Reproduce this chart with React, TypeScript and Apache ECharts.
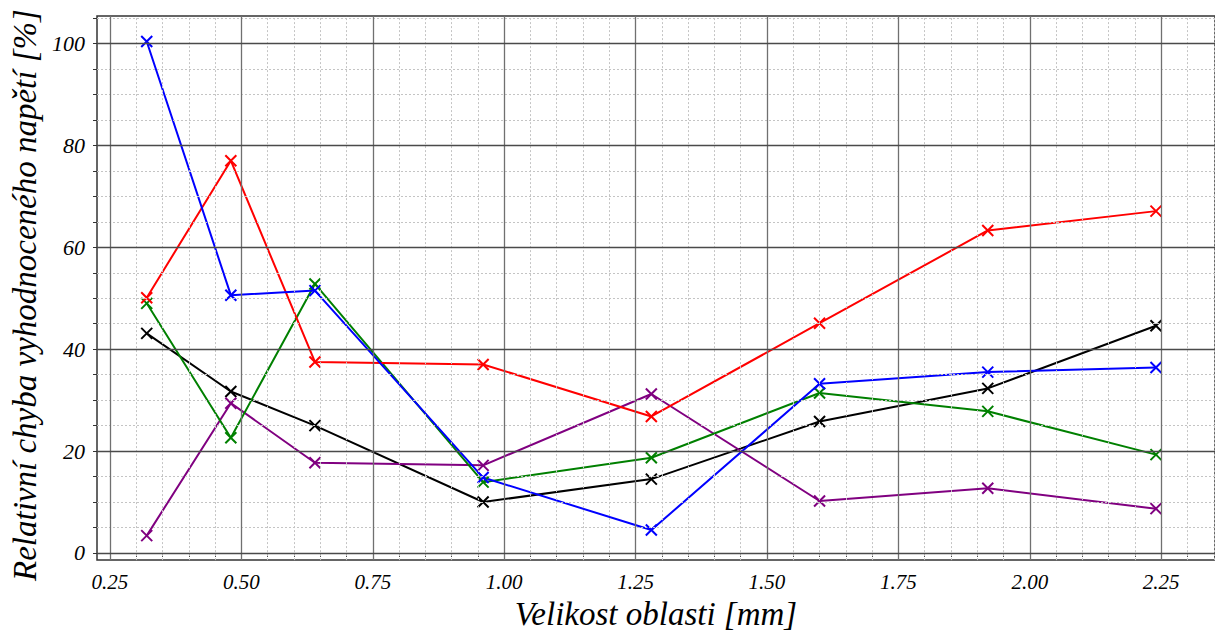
import React, { useEffect, useRef } from "react";
import * as echarts from "echarts";

const xValues = [0.32, 0.48, 0.64, 0.96, 1.28, 1.6, 1.92, 2.24];
const blueSeries = [100.4, 50.6, 51.5, 14.8, 4.5, 33.2, 35.5, 36.4];
const redSeries = [50.1, 77.0, 37.5, 37.0, 26.8, 45.1, 63.3, 67.1];
const greenSeries = [49.0, 22.6, 52.8, 13.9, 18.7, 31.4, 27.8, 19.3];
const blackSeries = [43.1, 31.7, 25.0, 10.0, 14.5, 25.8, 32.3, 44.6];
const purpleSeries = [3.4, 29.4, 17.7, 17.2, 31.2, 10.2, 12.7, 8.7];

const xMajorTicks = [0.25, 0.5, 0.75, 1.0, 1.25, 1.5, 1.75, 2.0, 2.25];
const xMinorTicks = [
  0.25, 0.3, 0.35, 0.4, 0.45, 0.5, 0.55, 0.6, 0.65, 0.7, 0.75, 0.8, 0.85, 0.9, 0.95,
  1.0, 1.05, 1.1, 1.15, 1.2, 1.25, 1.3, 1.35, 1.4, 1.45, 1.5, 1.55, 1.6, 1.65, 1.7,
  1.75, 1.8, 1.85, 1.9, 1.95, 2.0, 2.05, 2.1, 2.15, 2.2, 2.25, 2.3, 2.35,
];
const yMajorTicks = [0, 20, 40, 60, 80, 100];
const yMinorTicks = [0, 5, 10, 15, 20, 25, 30, 35, 40, 45, 50, 55, 60, 65, 70, 75, 80, 85, 90, 95, 100, 105];

const xTitle = "Velikost oblasti [mm]";
const yTitle = "Relativní chyba vyhodnoceného napětí [%]";

const FONT = "Liberation Serif";
const X_SYMBOL = "path://M0,0L10,10M10,0L0,10";

function isMajor(v: number, majors: number[]) {
  return majors.some((m) => Math.abs(m - v) < 1e-6);
}

export default function App() {
  const ref = useRef<HTMLDivElement>(null);
  useEffect(() => {
    if (!ref.current) return;
    const chart = echarts.init(ref.current, null, { renderer: "svg" });

    const mk = (name: string, color: string, values: number[]) => ({
      name,
      type: "line",
      data: xValues.map((x, i) => [x, values[i]]),
      symbol: X_SYMBOL,
      symbolSize: 11,
      lineStyle: { color, width: 2 },
      itemStyle: { color, borderColor: color, borderWidth: 2 },
      z: 3,
    });

    const minorX = xMinorTicks.filter((v) => !isMajor(v, xMajorTicks));
    const minorY = yMinorTicks.filter((v) => !isMajor(v, yMajorTicks));

    const gridSeries = {
      name: "gridlines",
      type: "line",
      data: [],
      silent: true,
      z: 1,
      markLine: {
        silent: true,
        symbol: "none",
        label: { show: false },
        animation: false,
        data: [
          ...minorX.map((v) => ({ xAxis: v, lineStyle: { color: "#c4c4c4", width: 1, type: [2, 2] } })),
          ...minorY.map((v) => ({ yAxis: v, lineStyle: { color: "#c4c4c4", width: 1, type: [2, 2] } })),
          ...xMajorTicks.map((v) => ({ xAxis: v, lineStyle: { color: "#707070", width: 1.3, type: "solid" } })),
          ...yMajorTicks.map((v) => ({ yAxis: v, lineStyle: { color: "#4a4a4a", width: 1.3, type: "solid" } })),
        ],
      },
    };

    chart.setOption({
      animation: false,
      backgroundColor: "#ffffff",
      grid: {
        left: 97,
        top: 16,
        right: -5,
        bottom: 70,
        show: true,
        borderColor: "#333",
        borderWidth: 1.5,
        containLabel: false,
      },
      xAxis: {
        type: "value",
        min: 0.2254,
        max: 2.3523,
        axisLine: { show: false },
        splitLine: { show: false },
        axisTick: {
          show: true,
          inside: false,
          length: 4,
          customValues: xMinorTicks,
          lineStyle: { color: "#333", width: 1 },
        },
        axisLabel: {
          customValues: xMajorTicks,
          formatter: (v: number) => v.toFixed(2),
          fontFamily: FONT,
          fontStyle: "italic",
          fontSize: 21,
          color: "#000",
          margin: 11,
        },
        name: xTitle,
        nameLocation: "middle",
        nameGap: 35,
        nameTextStyle: { fontFamily: FONT, fontStyle: "italic", fontSize: 33, color: "#000", verticalAlign: "top" },
      },
      yAxis: {
        type: "value",
        min: -1.4,
        max: 105.4,
        axisLine: { show: false },
        splitLine: { show: false },
        axisTick: {
          show: true,
          inside: false,
          length: 4,
          customValues: yMinorTicks,
          lineStyle: { color: "#333", width: 1 },
        },
        axisLabel: {
          customValues: yMajorTicks,
          formatter: (v: number) => String(v),
          fontFamily: FONT,
          fontStyle: "italic",
          fontSize: 22,
          color: "#000",
          margin: 12,
        },
        name: yTitle,
        nameLocation: "middle",
        nameGap: 46,
        nameRotate: 90,
        nameTextStyle: {
          fontFamily: FONT,
          fontStyle: "italic",
          fontSize: 33,
          color: "#000",
          padding: [0, 14, 0, 0],
        },
      },
      series: [
        gridSeries,
        mk("black", "#000000", blackSeries),
        mk("purple", "#800080", purpleSeries),
        mk("green", "#008000", greenSeries),
        mk("red", "#ff0000", redSeries),
        mk("blue", "#0000ff", blueSeries),
      ],
    });
    return () => chart.dispose();
  }, []);

  return (
    <div
      ref={ref}
      style={{ position: "fixed", left: 0, top: 0, width: 1215, height: 635, background: "#fff" }}
    />
  );
}
